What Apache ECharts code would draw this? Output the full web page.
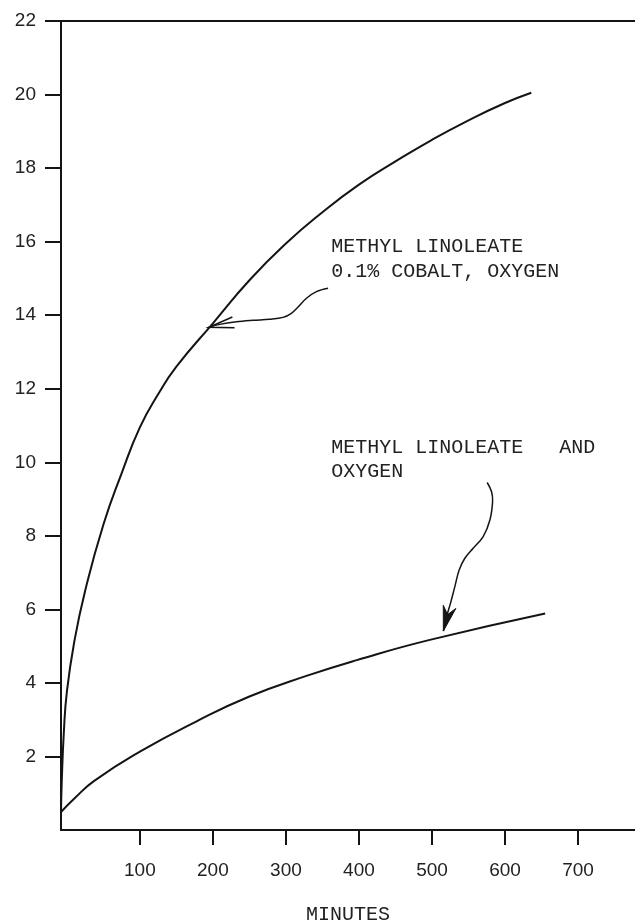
<!DOCTYPE html>
<html>
<head>
<meta charset="utf-8">
<title>Methyl linoleate oxidation</title>
<script src="https://cdn.jsdelivr.net/npm/echarts@6.0.0/dist/echarts.min.js"></script>
<style>
  html, body { margin: 0; padding: 0; background: #fff; }
  #chart { width: 635px; height: 923px; }
</style>
</head>
<body>
<div id="chart"></div>
<script>
// Tick labels
const xTicks = [100, 200, 300, 400, 500, 600, 700];
const yTicks = [2, 4, 6, 8, 10, 12, 14, 16, 18, 20, 22];

// Methyl linoleate with 0.1% cobalt, oxygen
const cobaltMinutes = [-8, -7, -4, 0, 10, 25, 50, 75, 100, 125, 150, 200, 250, 300, 350, 400, 450, 500, 550, 600, 636];
const cobaltValues  = [0.49, 1.3, 2.7, 3.75, 5.1, 6.5, 8.3, 9.7, 10.95, 11.85, 12.6, 13.78, 14.95, 15.95, 16.8, 17.55, 18.18, 18.77, 19.3, 19.77, 20.05];

// Methyl linoleate and oxygen
const plainMinutes = [-8, 11, 37, 100, 177, 250, 328, 397, 497, 655];
const plainValues  = [0.49, 0.87, 1.33, 2.13, 2.95, 3.63, 4.19, 4.62, 5.17, 5.89];

// Annotation texts
const cobaltLabel = ['METHYL LINOLEATE', '0.1% COBALT, OXYGEN'];
const plainLabel = ['METHYL LINOLEATE   AND', 'OXYGEN'];

// Annotation anchors and hand-drawn arrow paths, in axis units
const cobaltLabelAt = [[362, 15.86], [362, 15.18]];
const plainLabelAt = [[362, 10.40], [362, 9.74]];
const cobaltArrowMinutes = [357.7, 341.8, 328.1, 316.6, 307.5, 296, 277.8, 254.9, 232.2, 209.3, 194.6];
const cobaltArrowValues  = [14.73, 14.64, 14.46, 14.22, 14.05, 13.94, 13.89, 13.86, 13.82, 13.75, 13.67];
const plainArrowMinutes = [575.6, 581.6, 583.0, 579.3, 570.1, 556.4, 545.0, 537.2, 531.3, 525.4, 519.9, 515.6];
const plainArrowValues  = [9.45, 9.20, 8.93, 8.43, 7.98, 7.66, 7.39, 7.07, 6.62, 6.17, 5.80, 5.41];

const INK = '#141414';
const NUM_FONT = '"Liberation Sans", Arial, sans-serif';
const TYPE_FONT = '"Liberation Mono", "Courier New", monospace';

const zip = (xs, ys) => xs.map((x, i) => [x, ys[i]]);

const annotations = [
  { label: cobaltLabel, at: cobaltLabelAt, path: zip(cobaltArrowMinutes, cobaltArrowValues), head: 'open' },
  { label: plainLabel, at: plainLabelAt, path: zip(plainArrowMinutes, plainArrowValues), head: 'solid' }
];

function renderAnnotation(params, api) {
  const a = annotations[params.dataIndex];
  const pts = a.path.map(p => api.coord(p));
  const tip = pts[pts.length - 1];
  // direction back along the shaft, from the tip
  const ref = pts[pts.length - 3];
  const dx = ref[0] - tip[0], dy = ref[1] - tip[1];
  const len = Math.sqrt(dx * dx + dy * dy) || 1;
  const ux = dx / len, uy = dy / len;
  const nx = -uy, ny = ux;
  const children = [];

  children.push({
    type: 'polyline',
    shape: { points: pts, smooth: 0.35 },
    style: { stroke: INK, lineWidth: 1.5, fill: null }
  });

  if (a.head === 'open') {
    const L = 25, W = 5.5;
    children.push({
      type: 'polyline',
      shape: {
        points: [
          [tip[0] + ux * L + nx * W, tip[1] + uy * L + ny * W],
          tip,
          [tip[0] + ux * L - nx * W, tip[1] + uy * L - ny * W]
        ]
      },
      style: { stroke: INK, lineWidth: 1.6, fill: null }
    });
  } else {
    const L = 25, W = 6.5, N = 17;
    children.push({
      type: 'polygon',
      shape: {
        points: [
          tip,
          [tip[0] + ux * L + nx * W, tip[1] + uy * L + ny * W],
          [tip[0] + ux * N, tip[1] + uy * N],
          [tip[0] + ux * L - nx * W, tip[1] + uy * L - ny * W]
        ]
      },
      style: { fill: INK, stroke: INK, lineWidth: 1 }
    });
  }

  a.label.forEach((line, k) => {
    const p = api.coord(a.at[k]);
    children.push({
      type: 'text',
      x: p[0],
      y: p[1],
      style: {
        text: line,
        font: '20px ' + TYPE_FONT,
        fill: '#222',
        align: 'left',
        verticalAlign: 'middle'
      }
    });
  });

  return { type: 'group', children };
}

const chart = echarts.init(document.getElementById('chart'), null, { renderer: 'canvas' });

chart.setOption({
  animation: false,
  backgroundColor: '#fff',
  title: {
    text: 'MINUTES',
    left: 343,
    top: 900,
    textAlign: 'center',
    textStyle: { fontFamily: TYPE_FONT, fontSize: 20, fontWeight: 'normal', color: '#222' }
  },
  grid: { left: 61, right: 0, top: 21, bottom: 93, containLabel: false },
  xAxis: [
    {
      type: 'value',
      position: 'bottom',
      min: -8,
      max: 778,
      splitLine: { show: false },
      axisLine: { show: true, onZero: false, lineStyle: { color: INK, width: 2 } },
      axisTick: { show: true, customValues: xTicks, length: 15, inside: false, lineStyle: { color: INK, width: 2 } },
      axisLabel: {
        customValues: xTicks,
        margin: 31,
        fontFamily: NUM_FONT,
        fontSize: 19,
        color: '#222'
      }
    },
    {
      type: 'value',
      position: 'top',
      min: -8,
      max: 778,
      splitLine: { show: false },
      axisLine: { show: true, onZero: false, lineStyle: { color: INK, width: 2 } },
      axisTick: { show: false },
      axisLabel: { show: false }
    }
  ],
  yAxis: {
    type: 'value',
    min: 0,
    max: 22,
    interval: 2,
    splitLine: { show: false },
    axisLine: { show: true, onZero: false, lineStyle: { color: INK, width: 2 } },
    axisTick: { show: true, customValues: yTicks, length: 16, lineStyle: { color: INK, width: 2 } },
    axisLabel: {
      customValues: yTicks,
      margin: 25,
      fontFamily: NUM_FONT,
      fontSize: 19,
      color: '#222'
    }
  },
  series: [
    {
      name: 'Methyl linoleate, 0.1% cobalt, oxygen',
      type: 'line',
      xAxisIndex: 0,
      data: zip(cobaltMinutes, cobaltValues),
      smooth: 0.5,
      showSymbol: false,
      lineStyle: { color: INK, width: 2 }
    },
    {
      name: 'Methyl linoleate and oxygen',
      type: 'line',
      xAxisIndex: 0,
      data: zip(plainMinutes, plainValues),
      smooth: 0.5,
      showSymbol: false,
      lineStyle: { color: INK, width: 2 }
    },
    {
      name: 'annotations',
      type: 'custom',
      xAxisIndex: 0,
      silent: true,
      clip: false,
      data: [[0, 0], [1, 0]],
      renderItem: renderAnnotation
    }
  ]
});
</script>
</body>
</html>
